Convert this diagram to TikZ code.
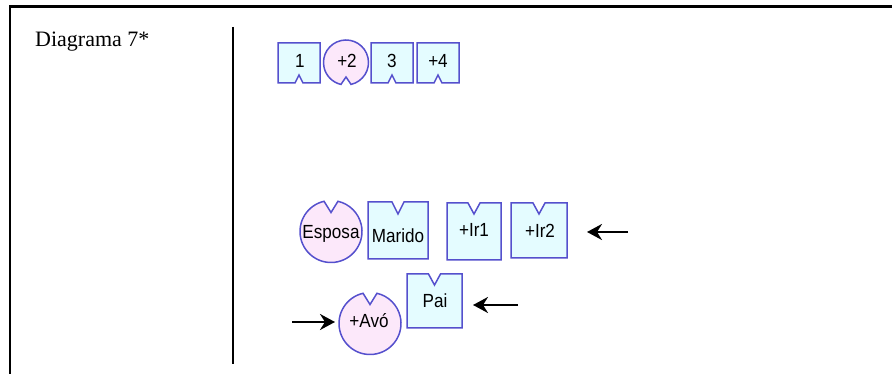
\documentclass[tikz,border=0pt]{standalone}
\usepackage{fontspec}
\newfontfamily\lsans[FakeStretch=0.9]{Liberation Sans}
\newfontfamily\lserif{Liberation Serif}
\usetikzlibrary{arrows.meta}
\definecolor{edgeblue}{RGB}{85,80,205}
\definecolor{boxfill}{RGB}{228,252,255}
\definecolor{circfill}{RGB}{252,232,250}
\tikzset{
 slot/.style={inner sep=0pt, outer sep=0pt, draw=none},
 boxshape/.style={draw=edgeblue, fill=boxfill, line width=1.5pt, line join=miter},
 circshape/.style={draw=edgeblue, fill=circfill, line width=1.5pt},
 lbl/.style={font=\lsans\fontsize{19}{22}\selectfont, inner sep=0pt, anchor=base},
 frameline/.style={line width=2.5pt, black},
 pointer/.style={line width=2.6pt, black, -{Stealth[length=15pt,width=16pt,inset=5pt]}}
}
\newcommand{\boxtopnotch}[3]{\draw[boxshape] (#1.north west) -- ([xshift=-#2]#1.north) -- ([yshift=-#3]#1.north) -- ([xshift=#2]#1.north) -- (#1.north east) -- (#1.south east) -- (#1.south west) -- cycle;}
\newcommand{\boxbotnotch}[3]{\draw[boxshape] (#1.north west) -- (#1.north east) -- (#1.south east) -- ([xshift=#2]#1.south) -- ([yshift=#3]#1.south) -- ([xshift=-#2]#1.south) -- (#1.south west) -- cycle;}
\newcommand{\circtopnotch}[4]{\draw[circshape] ([shift={(90+#3:#2)}]#1.center) arc[start angle=90+#3, end angle=450-#3, radius=#2] -- ([yshift=#2-#4]#1.center) -- cycle;}
\newcommand{\circbotnotch}[4]{\draw[circshape] ([shift={(270+#3:#2)}]#1.center) arc[start angle=270+#3, end angle=630-#3, radius=#2] -- ([yshift=-#2+#4]#1.center) -- cycle;}
\begin{document}
\begin{tikzpicture}[x=1pt,y=1pt]
\useasboundingbox (0,0) rectangle (892,374);
% frame
\coordinate (f1) at (894,367.5);
\coordinate (f2) at (10,367.5);
\coordinate (f3) at (10,-3);
\draw[frameline] (f1) -- (f2) -- (f3);
\coordinate (v1) at (233,347);
\coordinate (v2) at (233,10);
\draw[frameline] (v1) -- (v2);
\node[font=\lserif\fontsize{22}{26}\selectfont, inner sep=0pt, anchor=base west] (title) at (35,327) {Diagrama 7*};
% shape slots
\node[slot, minimum width=42pt, minimum height=40pt] (b1) at (299,311) {};
\node[slot, circle, minimum size=45pt] (c2) at (346,311.5) {};
\node[slot, minimum width=42pt, minimum height=40pt] (b3) at (392,311) {};
\node[slot, minimum width=42pt, minimum height=40pt] (b4) at (438,311) {};
\node[slot, circle, minimum size=62pt] (esp) at (331,142.5) {};
\node[slot, minimum width=60pt, minimum height=57pt] (mar) at (398,143.5) {};
\node[slot, minimum width=54pt, minimum height=57pt] (ir1) at (474,142.5) {};
\node[slot, minimum width=56pt, minimum height=55pt] (ir2) at (539,143.5) {};
\node[slot, minimum width=55pt, minimum height=54pt] (pai) at (434.5,73) {};
\node[slot, circle, minimum size=62pt] (avo) at (370,50.5) {};
% shapes
\boxbotnotch{b1}{4}{8}
\circbotnotch{c2}{22.5}{13}{8}
\boxbotnotch{b3}{4}{8}
\boxbotnotch{b4}{4}{8}
\circtopnotch{esp}{31}{13}{12}
\boxtopnotch{mar}{6}{12}
\boxtopnotch{ir1}{6}{11}
\boxtopnotch{ir2}{6}{11}
\boxtopnotch{pai}{6}{11}
\circtopnotch{avo}{31}{13}{12}
% labels
\node[lbl] (t1) at (300,306) {1};
\node[lbl] (t2) at (347,306) {+2};
\node[lbl] (t3) at (392,306) {3};
\node[lbl] (t4) at (438,306) {+4};
\node[lbl] (tesp) at (331,135.5) {Esposa};
\node[lbl] (tmar) at (398,131) {Marido};
\node[lbl] (tir1) at (474,137) {+Ir1};
\node[lbl] (tir2) at (540,136) {+Ir2};
\node[lbl] (tpai) at (435,66) {Pai};
\node[lbl] (tavo) at (369,46) {+Avó};
% arrows
\coordinate (a1) at (628,142);
\draw[pointer, shorten >=20pt] (a1) -- (a1 -| ir2.east);
\coordinate (a2) at (518,69);
\draw[pointer, shorten >=11pt] (a2) -- (a2 -| pai.east);
\coordinate (a3) at (292,52);
\draw[pointer, shorten >=4pt] (a3) -- (a3 -| avo.west);
\end{tikzpicture}
\end{document}
